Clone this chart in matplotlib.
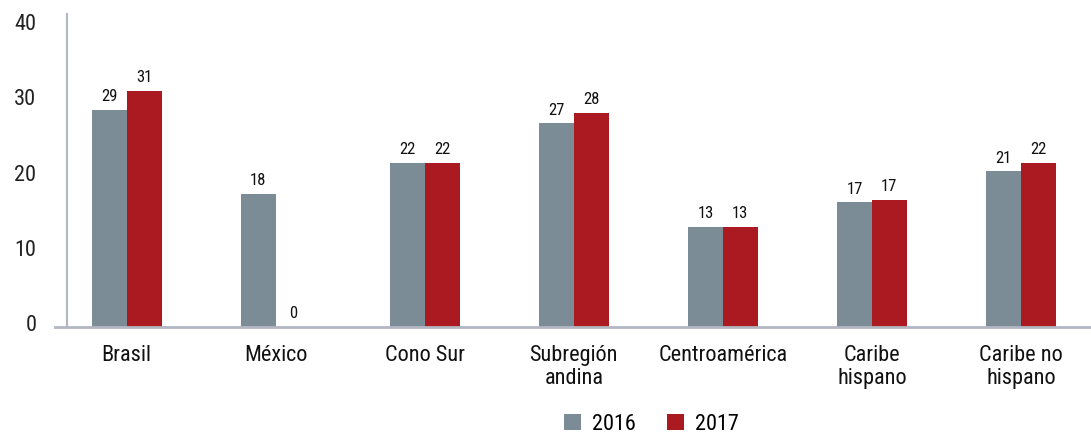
import numpy as np
import matplotlib.pyplot as plt
import matplotlib.transforms as mtransforms
from matplotlib import font_manager

# data
categories = ['Brasil', 'México', 'Cono Sur', 'Subregión\nandina', 'Centroamérica',
              'Caribe\nhispano', 'Caribe no\nhispano']
vals_2016 = [28.9, 17.7, 21.8, 27.1, 13.3, 16.6, 20.7]
vals_2017 = [31.4, 0.0, 21.8, 28.5, 13.3, 16.9, 21.8]
labels_2016 = ['29', '18', '22', '27', '13', '17', '21']
labels_2017 = ['31', '0', '22', '28', '13', '17', '22']
series_names = ['2016', '2017']

names = {f.name for f in font_manager.fontManager.ttflist}
fam = 'DejaVu Sans'
for cand in ['Roboto Condensed', 'Archivo Narrow', 'PT Sans Narrow', 'Liberation Sans Narrow',
             'IBM Plex Sans Condensed', 'Fira Sans Condensed', 'Barlow Semi Condensed']:
    if cand in names:
        fam = cand
        break
plt.rcParams['font.family'] = [fam, 'DejaVu Sans']

c16 = '#7b8c97'
c17 = '#ab1a21'
axis_c = '#b3b7c3'

fig = plt.figure(figsize=(10.91, 4.40), dpi=100)
ax = fig.add_axes([67 / 1091, 1 - 327 / 440, 1 - 67 / 1091, (327 - 14) / 440])

x = np.arange(len(categories))
w = 0.234
b1 = ax.bar(x - w / 2, vals_2016, w, color=c16, label=series_names[0])
b2 = ax.bar(x + w / 2, vals_2017, w, color=c17, label=series_names[1])

for bars, labs in ((b1, labels_2016), (b2, labels_2017)):
    for rect, lab in zip(bars, labs):
        ax.annotate(lab, (rect.get_x() + rect.get_width() / 2, rect.get_height()),
                    xytext=(0, 4), textcoords='offset points', ha='center', va='bottom',
                    fontsize=12, color='#111111')

ax.set_xlim(-0.4, 6.47)
ax.set_ylim(0, 41.6)
ax.set_yticks([0, 10, 20, 30, 40])
ax.set_yticklabels(['0', '10', '20', '30', '40'], fontsize=16, color='#222222')
ax.tick_params(axis='y', length=0, pad=22)
shift = mtransforms.ScaledTranslation(0, 4 / 100, fig.dpi_scale_trans)
for lab in ax.get_yticklabels():
    lab.set_transform(lab.get_transform() + shift)
ax.set_xticks(x)
ax.set_xticklabels(categories, fontsize=16, color='#111111', linespacing=1.15)
ax.tick_params(axis='x', length=0, pad=13)

for s in ['top', 'right', 'bottom']:
    ax.spines[s].set_visible(False)
ax.spines['left'].set_color(axis_c)
ax.spines['left'].set_linewidth(1.5)
ax.plot([-12 / 1024, 1], [0, 0],
        transform=mtransforms.blended_transform_factory(ax.transAxes, ax.transData),
        color=axis_c, lw=2, clip_on=False, zorder=3)

fig.legend(loc='center', bbox_to_anchor=(0.597, 0.035), ncol=2, frameon=False,
           fontsize=16, handlelength=0.75, handleheight=0.75, columnspacing=1.4,
           handletextpad=0.5)

fig.savefig('out.png', dpi=100)
